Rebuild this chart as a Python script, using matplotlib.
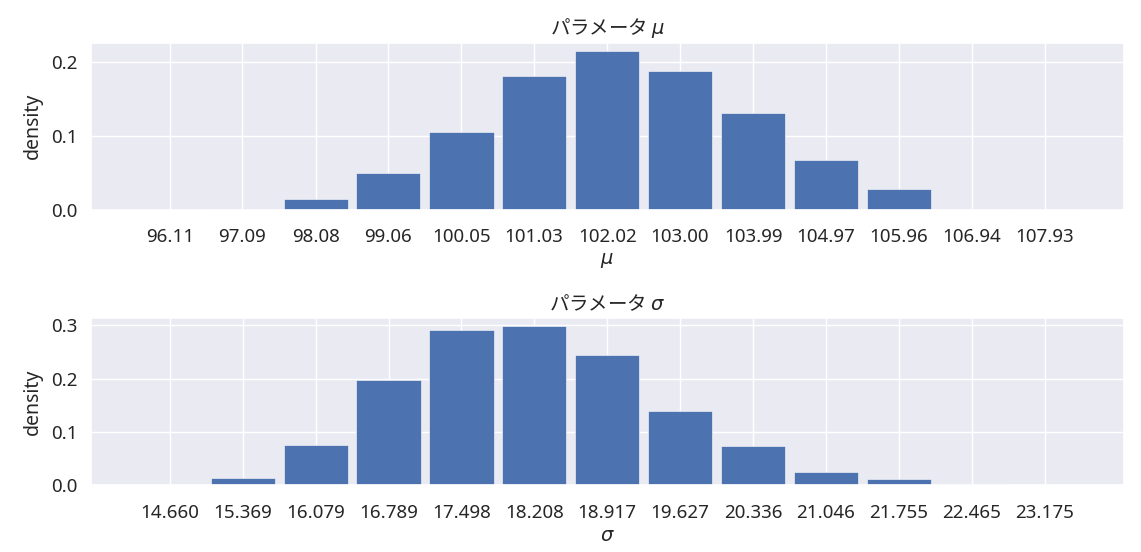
import numpy as np
import matplotlib
matplotlib.use('Agg')
import matplotlib.pyplot as plt
import seaborn as sns

# Data (bin centres and densities)
mu_bins = [96.11, 97.09, 98.08, 99.06, 100.05, 101.03, 102.02,
           103.00, 103.99, 104.97, 105.96, 106.94, 107.93]
mu_density = [0.0, 0.0016, 0.0149, 0.0495, 0.105, 0.1807, 0.2149,
              0.187, 0.131, 0.067, 0.028, 0.0016, 0.0006]

sigma_bins = [14.660, 15.369, 16.079, 16.789, 17.498, 18.208, 18.917,
              19.627, 20.336, 21.046, 21.755, 22.465, 23.175]
sigma_density = [0.0, 0.014, 0.076, 0.198, 0.2915, 0.2977, 0.2437,
                 0.140, 0.074, 0.025, 0.0115, 0.002, 0.0003]

sns.set_theme()
plt.rcParams['font.family'] = ['Noto Sans', 'Noto Sans CJK JP', 'DejaVu Sans']

fig, axes = plt.subplots(2, 1, figsize=(11.41, 5.52), dpi=100)
fig.subplots_adjust(left=0.0795, right=0.985, top=0.9226, bottom=0.1205, hspace=0.65)

panels = [
    (axes[0], mu_bins, mu_density, 2, r'$\mu$'),
    (axes[1], sigma_bins, sigma_density, 3, r'$\sigma$'),
]
for ax, bins, dens, dec, sym in panels:
    step = (bins[-1] - bins[0]) / (len(bins) - 1)
    ax.bar(bins, dens, width=step * 0.88, color='#4c72b0', edgecolor='white', linewidth=0.4)
    ax.set_xticks(bins)
    ax.set_xticklabels([f'{b:.{dec}f}' for b in bins])
    ax.tick_params(axis='both', labelsize=13.5)
    ax.tick_params(axis='x', pad=7)
    ax.set_xlabel(sym, fontsize=14, labelpad=3)
    ax.set_ylabel('density', fontsize=14, labelpad=6)
    ax.set_title('パラメータ ' + sym, fontsize=14, family=['Noto Sans CJK JP', 'DejaVu Sans'])

fig.savefig('out.png', dpi=100)
